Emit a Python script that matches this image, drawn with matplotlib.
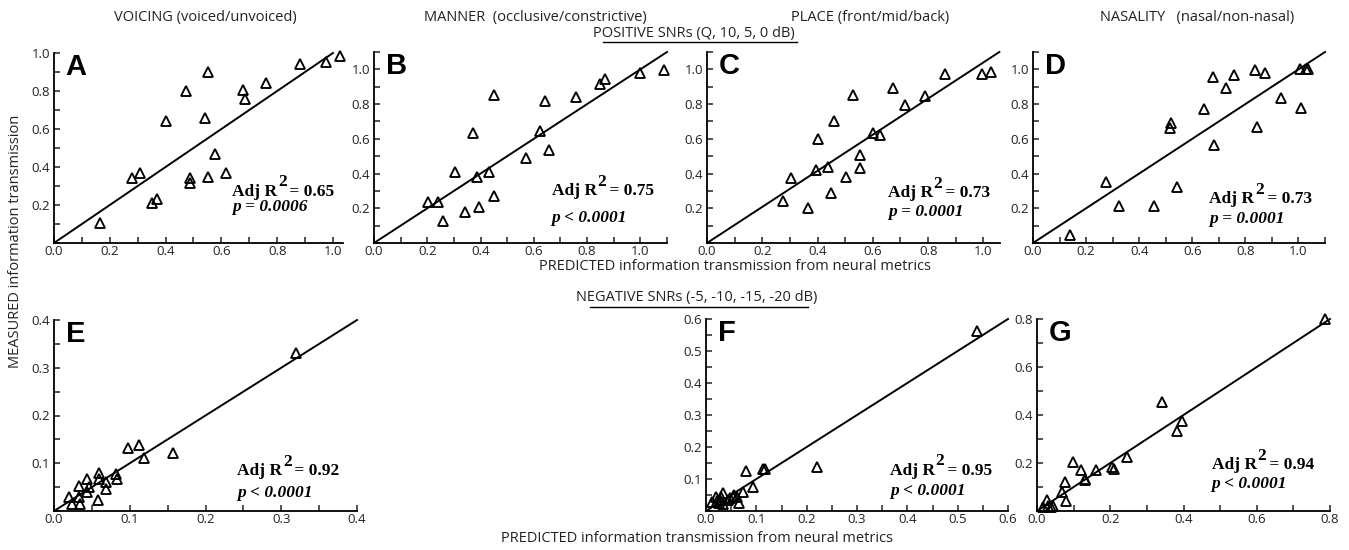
import matplotlib
matplotlib.use("Agg")
import matplotlib.pyplot as plt
from matplotlib.ticker import MultipleLocator, FuncFormatter
from matplotlib.lines import Line2D

plt.rcParams['font.family'] = ['Open Sans', 'DejaVu Sans']

# --- data (predicted from neural metrics, measured) ---
# POSITIVE SNRs
a_pred = [0.166, 0.28, 0.307, 0.351, 0.37, 0.40, 0.472, 0.486, 0.486, 0.542,
          0.552, 0.552, 0.576, 0.615, 0.677, 0.686, 0.759, 0.881, 0.974, 1.026]
a_meas = [0.105, 0.34, 0.367, 0.21, 0.233, 0.642, 0.799, 0.341, 0.315, 0.656,
          0.900, 0.35, 0.469, 0.371, 0.804, 0.76, 0.843, 0.941, 0.953, 0.982]

b_pred = [0.202, 0.242, 0.258, 0.305, 0.343, 0.370, 0.385, 0.395, 0.433, 0.449,
          0.449, 0.57, 0.623, 0.641, 0.657, 0.759, 0.847, 0.869, 0.998, 1.087]
b_meas = [0.239, 0.239, 0.124, 0.407, 0.178, 0.631, 0.382, 0.21, 0.411, 0.273,
          0.851, 0.488, 0.646, 0.816, 0.535, 0.841, 0.918, 0.943, 0.981, 0.994]

c_pred = [0.274, 0.304, 0.364, 0.40, 0.396, 0.436, 0.45, 0.459, 0.502, 0.528,
          0.552, 0.552, 0.60, 0.627, 0.672, 0.717, 0.789, 0.861, 0.996, 1.029]
c_meas = [0.243, 0.373, 0.20, 0.597, 0.421, 0.44, 0.287, 0.704, 0.382, 0.851,
          0.507, 0.43, 0.631, 0.621, 0.895, 0.797, 0.845, 0.971, 0.975, 0.985]

d_pred = [0.138, 0.275, 0.323, 0.454, 0.515, 0.519, 0.544, 0.646, 0.678, 0.681,
          0.728, 0.756, 0.838, 0.844, 0.875, 0.935, 1.006, 1.009, 1.028, 1.035]
d_meas = [0.048, 0.354, 0.212, 0.212, 0.665, 0.69, 0.325, 0.77, 0.956, 0.564,
          0.895, 0.966, 0.994, 0.669, 0.979, 0.837, 1.004, 0.776, 1.004, 1.004]

# NEGATIVE SNRs
e_pred = [0.0195, 0.024, 0.033, 0.034, 0.033, 0.043, 0.043, 0.046, 0.058, 0.059,
          0.060, 0.068, 0.069, 0.082, 0.083, 0.098, 0.112, 0.119, 0.157, 0.320]
e_meas = [0.029, 0.015, 0.052, 0.015, 0.030, 0.040, 0.066, 0.050, 0.024, 0.080,
          0.066, 0.061, 0.047, 0.077, 0.066, 0.132, 0.139, 0.112, 0.122, 0.331]

f_pred = [0.011, 0.020, 0.022, 0.025, 0.028, 0.030, 0.033, 0.034, 0.044, 0.048,
          0.053, 0.056, 0.062, 0.066, 0.074, 0.080, 0.094, 0.114, 0.118, 0.22, 0.538]
f_meas = [0.029, 0.043, 0.030, 0.026, 0.035, 0.045, 0.057, 0.022, 0.034, 0.040,
          0.045, 0.051, 0.045, 0.025, 0.060, 0.125, 0.074, 0.132, 0.130, 0.139, 0.563]

g_pred = [0.017, 0.026, 0.030, 0.037, 0.044, 0.067, 0.077, 0.079, 0.097, 0.119,
          0.130, 0.132, 0.161, 0.206, 0.21, 0.246, 0.34, 0.381, 0.397, 0.786]
g_meas = [0.018, 0.046, 0.020, 0.015, 0.022, 0.080, 0.122, 0.043, 0.203, 0.172,
          0.133, 0.128, 0.171, 0.182, 0.175, 0.224, 0.455, 0.333, 0.376, 0.799]

panel_letters = ['A', 'B', 'C', 'D', 'E', 'F', 'G']
fit_slopes = [1.0, 1.0, 1.04, 1.0, 1.0, 1.0, 1.0]
adj_r2 = ['0.65', '0.75', '0.73', '0.73', '0.92', '0.95', '0.94']
p_text = ['= 0.0006', '< 0.0001', '= 0.0001', '= 0.0001', '< 0.0001', '< 0.0001', '< 0.0001']
col_titles = ['VOICING (voiced/unvoiced)', 'MANNER  (occlusive/constrictive)',
              'PLACE (front/mid/back)', 'NASALITY   (nasal/non-nasal)']

preds = [a_pred, b_pred, c_pred, d_pred, e_pred, f_pred, g_pred]
meas = [a_meas, b_meas, c_meas, d_meas, e_meas, f_meas, g_meas]

# layout in pixels: left, right, bottom, top ; limits ; tick steps ; stats position
W, H = 1349, 550
boxes = [(54, 343, 243, 53), (374, 667, 243, 52), (707, 1000, 243, 52), (1033, 1325, 243, 52),
         (54, 357, 511, 320), (706, 1008, 511, 319), (1037, 1330, 511, 319)]
xlims = [1.036, 1.1, 1.06, 1.1, 0.4, 0.6, 0.8]
ylims = [1.0, 1.1, 1.1, 1.1, 0.4, 0.6, 0.8]
major = [0.2, 0.2, 0.2, 0.2, 0.1, 0.1, 0.2]
stat_pos = [(0.616, 0.25, 0.17), (0.606, 0.25, 0.11), (0.617, 0.24, 0.14), (0.604, 0.21, 0.106),
            (0.605, 0.19, 0.075), (0.609, 0.19, 0.084), (0.596, 0.22, 0.12)]

fig = plt.figure(figsize=(W / 100, H / 100), dpi=100)

yfmt = FuncFormatter(lambda v, p: '' if abs(v) < 1e-9 else f'{v:.1f}')
xfmt = FuncFormatter(lambda v, p: f'{v:.1f}')
serif = dict(family='Liberation Serif', fontweight='bold', fontsize=12.5)

for i in range(7):
    l, r, b, t = boxes[i]
    ax = fig.add_axes([l / W, 1 - b / H, (r - l) / W, (b - t) / H])
    ax.set_xlim(0, xlims[i])
    ax.set_ylim(0, ylims[i])
    for s in ['top', 'right']:
        ax.spines[s].set_visible(False)
    for s in ['left', 'bottom']:
        ax.spines[s].set_linewidth(1.3)
    ax.xaxis.set_major_locator(MultipleLocator(major[i]))
    ax.xaxis.set_minor_locator(MultipleLocator(major[i] / 2))
    ax.yaxis.set_major_locator(MultipleLocator(major[i]))
    ax.yaxis.set_minor_locator(MultipleLocator(major[i] / 2))
    ax.xaxis.set_major_formatter(xfmt)
    ax.yaxis.set_major_formatter(yfmt)
    ax.tick_params(which='both', direction='in', length=4, width=1.1, labelsize=9.5, pad=3,
                   colors='#222222')
    ax.tick_params(axis='x', pad=1.5)
    ax.patch.set_alpha(0)

    # fit line
    xe = ylims[i] / fit_slopes[i]
    ax.plot([0, xe], [0, xe * fit_slopes[i]], color='black', lw=1.4, clip_on=False)
    ax.plot(preds[i], meas[i], '^', mfc='none', mec='black', ms=7.8, mew=1.35, clip_on=False)

    ax.text(0.04, 1.0, panel_letters[i], transform=ax.transAxes, fontsize=21,
            fontweight='bold', family='Liberation Sans', va='top', ha='left')
    sx, sy1, sy2 = stat_pos[i]
    t1 = ax.text(sx, sy1, 'Adj R', transform=ax.transAxes, **serif)
    t2 = ax.annotate('2', xy=(1, 0), xycoords=t1, xytext=(0.5, 6.5), textcoords='offset points',
                     va='bottom', ha='left', **serif)
    ax.annotate(' = ' + adj_r2[i], xy=(1, 0), xycoords=t2, xytext=(-1, -6.5),
                textcoords='offset points', va='bottom', ha='left', **serif)
    ax.text(sx, sy2, 'p ' + p_text[i], transform=ax.transAxes, style='italic', **serif)

# column titles
title_x = [205, 535, 870, 1197]
for tx, tt in zip(title_x, col_titles):
    fig.text(tx / W, 1 - 18 / H, tt, ha='center', va='center', fontsize=10.5, color='#222222')

fig.text(694 / W, 1 - 33 / H, 'POSITIVE SNRs (Q, 10, 5, 0 dB)', ha='center', va='center',
         fontsize=10.5, color='#222222')
fig.add_artist(Line2D([603 / W, 797 / W], [1 - 42 / H, 1 - 42 / H], color='black', lw=1.0))

fig.text(735 / W, 1 - 267 / H, 'PREDICTED information transmission from neural metrics',
         ha='center', va='center', fontsize=10.5, color='#222222')

fig.text(697 / W, 1 - 298 / H, 'NEGATIVE SNRs (-5, -10, -15, -20 dB)', ha='center', va='center',
         fontsize=10.5, color='#222222')
fig.add_artist(Line2D([590 / W, 808 / W], [1 - 307 / H, 1 - 307 / H], color='black', lw=1.0))

fig.text(697 / W, 1 - 538 / H, 'PREDICTED information transmission from neural metrics',
         ha='center', va='center', fontsize=10.5, color='#222222')

fig.text(16 / W, 1 - 241 / H, 'MEASURED information transmission', rotation=90,
         ha='center', va='center', fontsize=10.5, color='#222222')

fig.savefig('out.png', dpi=100)
